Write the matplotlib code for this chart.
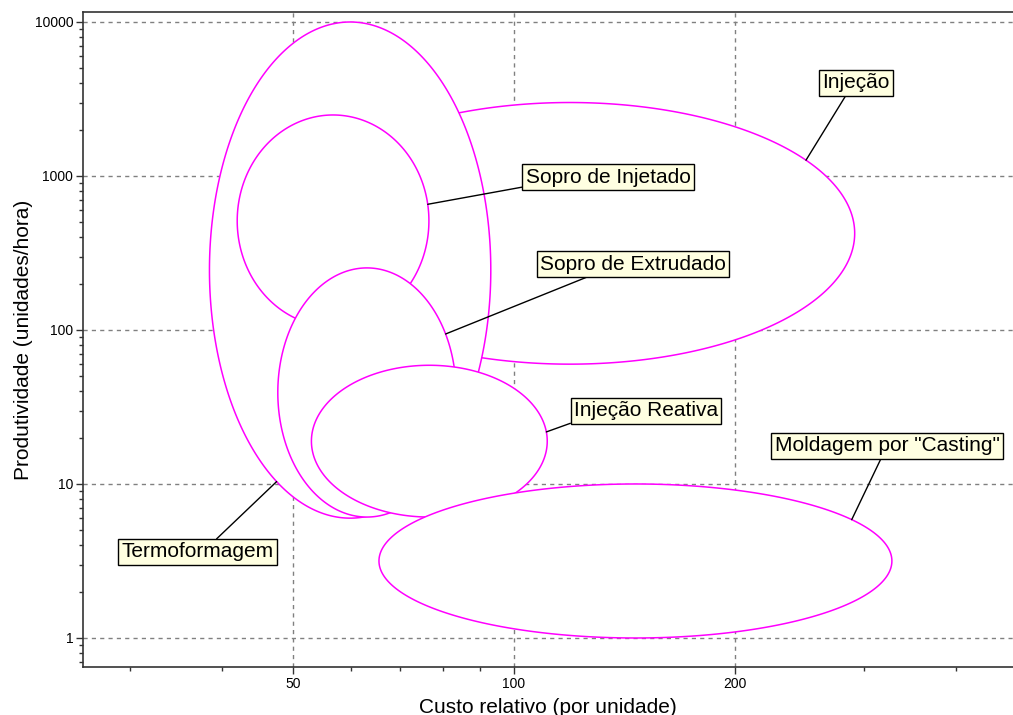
import matplotlib
matplotlib.use("Agg")
import matplotlib.pyplot as plt
import numpy as np
from matplotlib.ticker import FixedLocator, NullFormatter

plt.rcParams["font.family"] = ["Liberation Sans", "DejaVu Sans"]

# processes, in drawing order (later ones hide earlier ones)
processes = ["Injeção", "Termoformagem", "Sopro de Injetado",
             "Sopro de Extrudado", "Injeção Reativa", 'Moldagem por "Casting"']
cost_min = [48.8, 38.5, 42, 47.7, 53, 65.5]
cost_max = [291, 93, 76.6, 83.4, 111, 327]
prod_min = [60, 6.0, 105, 6.1, 6.1, 1.0]
prod_max = [3000, 10000, 2490, 253, 59, 10]

# where each leader line meets its ellipse (degrees, counter-clockwise from the right)
leader_angle = [34, 238.5, 9, 28, 7, 32.5]
# label centres (data coords) and where the leader leaves the box
label_x = [292, 37.1, 134.3, 145.2, 151.3, 322]
label_y = [4018, 3.62, 985, 268, 29.8, 17.65]
label_relpos = [(0.38, 0.0), (0.6, 1.0), (0.0, 0.0), (0.3, 0.0), (0.03, 0.0), (0.48, 0.0)]

x_major = [50, 100, 200]
x_minor = [30, 40, 60, 70, 80, 90, 300, 400]
y_major = [1, 10, 100, 1000, 10000]
y_minor = [m * 10.0 ** d for d in range(-1, 5) for m in range(2, 10)]

fig = plt.figure(figsize=(10.13, 7.15), dpi=100)
ax = fig.add_axes([83 / 1013, 48 / 715, 930 / 1013, 655 / 715])
ax.set_xscale("log")
ax.set_yscale("log")
ax.set_xlim(25.9, 478)
ax.set_ylim(0.648, 11612)

t = np.linspace(0, 2 * np.pi, 400)
for i, name in enumerate(processes):
    lx0, lx1 = np.log10(cost_min[i]), np.log10(cost_max[i])
    ly0, ly1 = np.log10(prod_min[i]), np.log10(prod_max[i])
    cx, cy = (lx0 + lx1) / 2, (ly0 + ly1) / 2
    rx, ry = (lx1 - lx0) / 2, (ly1 - ly0) / 2
    ax.fill(10 ** (cx + rx * np.cos(t)), 10 ** (cy + ry * np.sin(t)),
            facecolor="white", edgecolor="#ff00ff", lw=1.1, zorder=2 + i)

    a = np.radians(leader_angle[i])
    px, py = 10 ** (cx + rx * np.cos(a)), 10 ** (cy + ry * np.sin(a))
    ax.annotate(name, xy=(px, py), xytext=(label_x[i], label_y[i]),
                ha="center", va="center", fontsize=15, zorder=20,
                bbox=dict(boxstyle="square,pad=0.15", fc="#ffffe1", ec="black", lw=1),
                arrowprops=dict(arrowstyle="-", color="black", lw=1,
                                relpos=label_relpos[i], shrinkA=0, shrinkB=0))

ax.xaxis.set_major_locator(FixedLocator(x_major))
ax.xaxis.set_minor_locator(FixedLocator(x_minor))
ax.xaxis.set_minor_formatter(NullFormatter())
ax.set_xticklabels([str(v) for v in x_major])
ax.yaxis.set_major_locator(FixedLocator(y_major))
ax.yaxis.set_minor_locator(FixedLocator(y_minor))
ax.yaxis.set_minor_formatter(NullFormatter())
ax.set_yticklabels([str(v) for v in y_major])

ax.tick_params(which="major", length=5, width=1, color="#333333", labelsize=10, pad=2)
ax.tick_params(which="minor", length=3, width=1, color="#333333")
ax.grid(True, which="major", color="#808080", linestyle=(0, (3, 3)), lw=1, zorder=1)
ax.set_axisbelow(True)

for side in ["left", "bottom", "top"]:
    ax.spines[side].set_color("#333333")
    ax.spines[side].set_linewidth(1.2)
ax.spines["right"].set_visible(False)

ax.set_xlabel("Custo relativo (por unidade)", fontsize=15, labelpad=5)
ax.set_ylabel("Produtividade (unidades/hora)", fontsize=15, labelpad=1)

fig.savefig("out.png", dpi=100)
